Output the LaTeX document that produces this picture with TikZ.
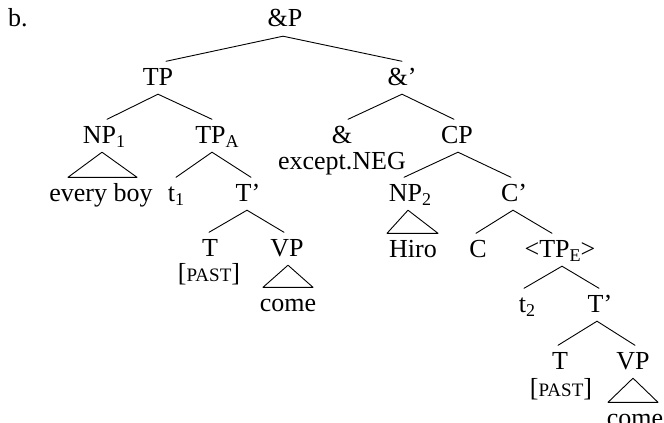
\documentclass[tikz,border=0pt]{standalone}
\usepackage{fontspec}
\setmainfont{Liberation Serif}
\newcommand{\sbs}[1]{\raisebox{-4pt}{\fontsize{18}{18}\selectfont #1}}
\newcommand{\pastsc}{[{\fontsize{19}{19}\selectfont PAST}]}
\begin{document}
\begin{tikzpicture}[x=1pt,y=-1pt,
  every node/.style={font=\fontsize{26}{30}\selectfont},
  tn/.style={anchor=base,inner xsep=1pt,inner ysep=3.5pt,text height=20pt,text depth=5.5pt},
  edge/.style={line width=0.9pt,line cap=round,line join=round}]
\useasboundingbox (0,0) rectangle (664,423);
% nodes
\node[tn,anchor=base west] (lbl) at (7,27) {b.};
\node[tn] (andP) at (285,27) {\&P};
\node[tn] (TP) at (158,85) {TP};
\node[tn] (andbar) at (402,85) {\&’};
\node[tn] (NPa) at (104,143) {NP\sbs{1}};
\node[tn] (TPA) at (217,143) {TP\sbs{A}};
\node[tn] (amp) at (342,143) {\&};
\node[tn] (neg) at (342,169) {except.NEG};
\node[tn] (CP) at (457,143) {CP};
\node[tn] (boy) at (101,201) {every boy};
\node[tn] (ta) at (176,201) {t\sbs{1}};
\node[tn] (Tbara) at (248,201) {T’};
\node[tn] (NPb) at (410,201) {NP\sbs{2}};
\node[tn] (Cbar) at (514,201) {C’};
\node[tn] (Ta) at (210,256) {T};
\node[tn] (pasta) at (209,281) {\pastsc};
\node[tn] (VPa) at (287,256) {VP};
\node[tn] (comea) at (288,311) {come};
\node[tn] (hiro) at (413,257) {Hiro};
\node[tn] (C) at (478,257) {C};
\node[tn] (TPE) at (560,257) {<TP\sbs{E}>};
\node[tn] (tb) at (527,312) {t\sbs{2}};
\node[tn] (Tbarb) at (600,312) {T’};
\node[tn] (Tb) at (560,369) {T};
\node[tn] (pastb) at (561,396) {\pastsc};
\node[tn] (VPb) at (633,369) {VP};
\node[tn] (comeb) at (635,426) {come};
% edges
\draw[edge] ([xshift=-2pt]andP.south) -- ([xshift=8pt]TP.north);
\draw[edge] ([xshift=-2pt]andP.south) -- (andbar.north);
\draw[edge] (TP.south) -- ([xshift=3pt]NPa.north);
\draw[edge] (TP.south) -- ([xshift=-5pt]TPA.north);
\draw[edge] (andbar.south) -- ([xshift=6pt]amp.north);
\draw[edge] (andbar.south) -- ([xshift=-3pt]CP.north);
\draw[edge] ([xshift=-2pt]NPa.south) -- ([xshift=-33pt]boy.north) -- ([xshift=36pt]boy.north) -- cycle;
\draw[edge] ([xshift=-5pt]TPA.south) -- (ta.north);
\draw[edge] ([xshift=-5pt]TPA.south) -- ([xshift=3pt]Tbara.north);
\draw[edge] ([xshift=1pt]CP.south) -- ([xshift=-6pt]NPb.north);
\draw[edge] ([xshift=1pt]CP.south) -- ([xshift=-3pt]Cbar.north);
\draw[edge] ([xshift=-2pt]NPb.south) -- ([xshift=-26pt]hiro.north) -- ([xshift=25pt]hiro.north) -- cycle;
\draw[edge] ([xshift=-1pt]Tbara.south) -- ([xshift=-1pt]Ta.north);
\draw[edge] ([xshift=-1pt]Tbara.south) -- ([xshift=-3pt]VPa.north);
\draw[edge] ([xshift=1pt]VPa.south) -- ([xshift=-25pt]comea.north) -- ([xshift=25pt]comea.north) -- cycle;
\draw[edge] ([xshift=-1pt]Cbar.south) -- ([xshift=-2pt]C.north);
\draw[edge] ([xshift=-1pt]Cbar.south) -- ([xshift=-8pt]TPE.north);
\draw[edge] ([xshift=2pt]TPE.south) -- ([xshift=-3pt]tb.north);
\draw[edge] ([xshift=2pt]TPE.south) -- ([xshift=-1pt]Tbarb.north);
\draw[edge] ([xshift=-3pt]Tbarb.south) -- ([xshift=-2pt]Tb.north);
\draw[edge] ([xshift=-3pt]Tbarb.south) -- ([xshift=2pt]VPb.north);
\draw[edge] (VPb.south) -- ([xshift=-27pt]comeb.north) -- ([xshift=23pt]comeb.north) -- cycle;
\end{tikzpicture}
\end{document}
